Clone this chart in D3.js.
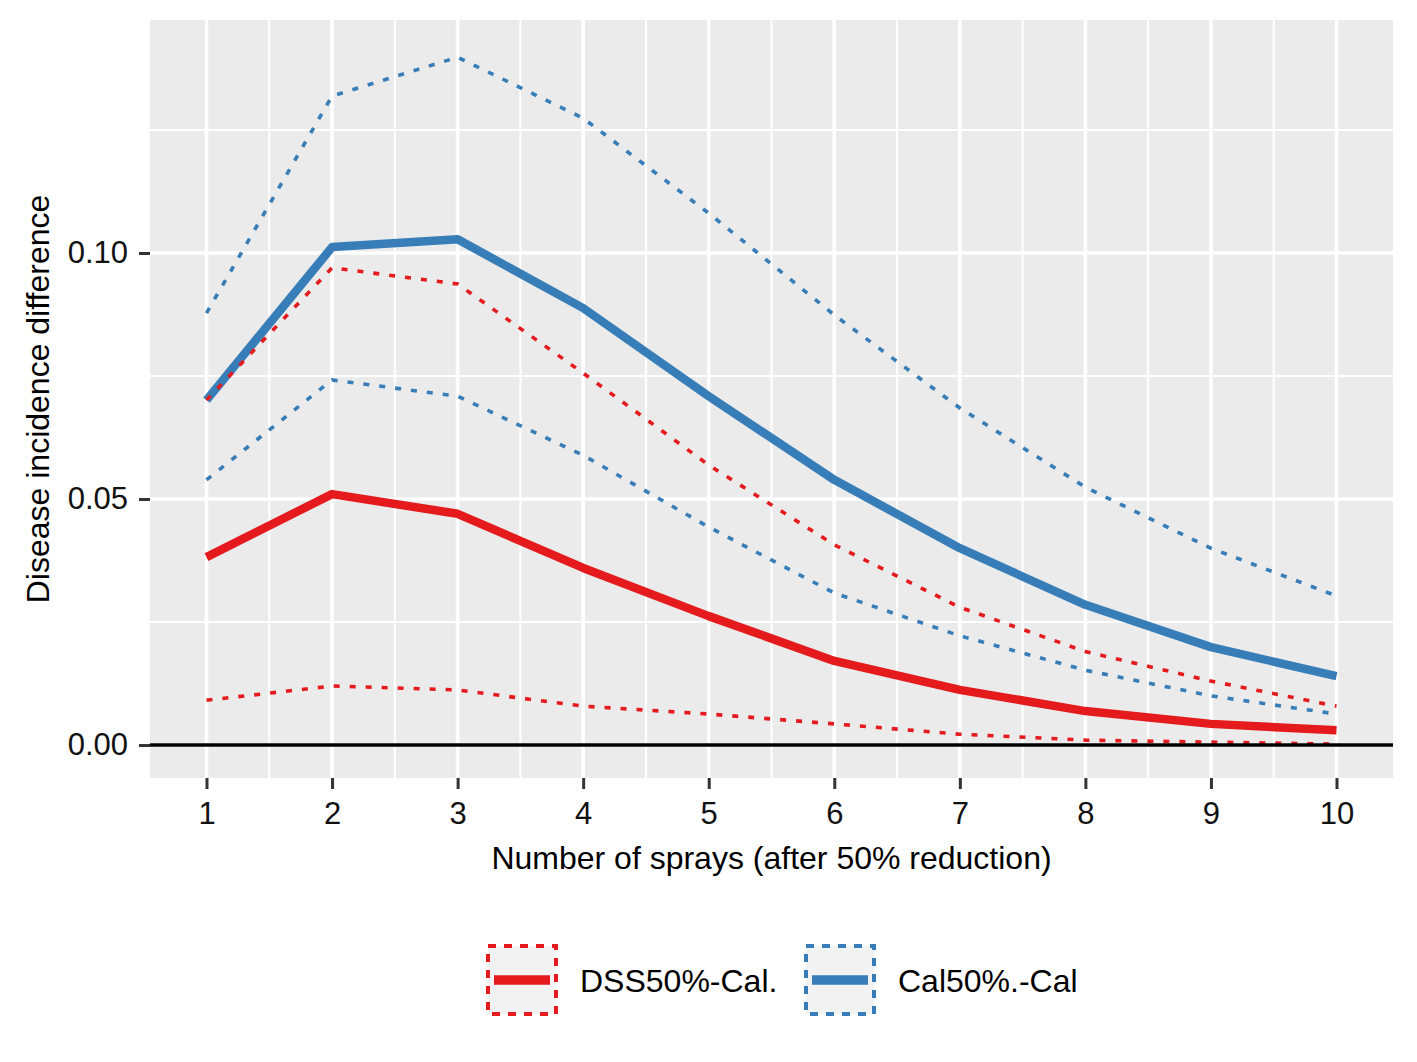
<!DOCTYPE html>
<html>
<head>
<meta charset="utf-8">
<script src="https://cdn.jsdelivr.net/npm/d3@7"></script>
<style>
  body { margin: 0; background: #fff; }
  svg { display: block; font-family: "Liberation Sans", Arial, sans-serif; }
</style>
</head>
<body>
<svg id="chart" width="1417" height="1062"></svg>
<script>
const sprays = [1, 2, 3, 4, 5, 6, 7, 8, 9, 10];
const dssMean  = [0.0382, 0.0510, 0.0470, 0.0360, 0.0262, 0.0171, 0.0112, 0.0069, 0.0043, 0.0030];
const dssUpper = [0.0701, 0.0970, 0.0937, 0.0756, 0.0569, 0.0407, 0.0280, 0.0190, 0.0130, 0.0079];
const dssLower = [0.0091, 0.0120, 0.0112, 0.0079, 0.0063, 0.0043, 0.0022, 0.0010, 0.0006, 0.0002];
const calMean  = [0.0701, 0.1012, 0.1028, 0.0888, 0.0709, 0.0539, 0.0400, 0.0285, 0.0199, 0.0140];
const calUpper = [0.0878, 0.1319, 0.1398, 0.1274, 0.1081, 0.0874, 0.0685, 0.0524, 0.0400, 0.0303];
const calLower = [0.0539, 0.0742, 0.0709, 0.0589, 0.0443, 0.0309, 0.0222, 0.0152, 0.0100, 0.0063];
const yTicks = [0.00, 0.05, 0.10];
const yMinor = [0.025, 0.075, 0.125];
const xMinor = [1.5, 2.5, 3.5, 4.5, 5.5, 6.5, 7.5, 8.5, 9.5];
const seriesNames = ["DSS50%-Cal.", "Cal50%.-Cal"];
const seriesColors = ["#E41A1C", "#377EB8"];

const svg = d3.select("#chart");
const panel = { left: 150, right: 1393, top: 20, bottom: 778 };

const x = d3.scaleLinear().domain([0.55, 10.45]).range([panel.left, panel.right]);
const y = d3.scaleLinear().domain([-0.0067, 0.14736]).range([panel.bottom, panel.top]);

// panel background
svg.append("rect")
  .attr("x", panel.left).attr("y", panel.top)
  .attr("width", panel.right - panel.left).attr("height", panel.bottom - panel.top)
  .attr("fill", "#EBEBEB");

const grid = svg.append("g");
// minor grid
grid.selectAll(".ymin").data(yMinor).join("line")
  .attr("x1", panel.left).attr("x2", panel.right)
  .attr("y1", d => y(d)).attr("y2", d => y(d))
  .attr("stroke", "#fff").attr("stroke-width", 2);
grid.selectAll(".xmin").data(xMinor).join("line")
  .attr("y1", panel.top).attr("y2", panel.bottom)
  .attr("x1", d => x(d)).attr("x2", d => x(d))
  .attr("stroke", "#fff").attr("stroke-width", 2);
// major grid
grid.selectAll(".ymaj").data(yTicks).join("line")
  .attr("x1", panel.left).attr("x2", panel.right)
  .attr("y1", d => y(d)).attr("y2", d => y(d))
  .attr("stroke", "#fff").attr("stroke-width", 3.6);
grid.selectAll(".xmaj").data(sprays).join("line")
  .attr("y1", panel.top).attr("y2", panel.bottom)
  .attr("x1", d => x(d)).attr("x2", d => x(d))
  .attr("stroke", "#fff").attr("stroke-width", 3.6);

const line = d3.line().x((d, i) => x(sprays[i])).y(d => y(d));

const solid = [
  { v: calMean, c: seriesColors[1] },
  { v: dssMean, c: seriesColors[0] }
];
const dotted = [
  { v: calUpper, c: seriesColors[1] },
  { v: calLower, c: seriesColors[1] },
  { v: dssUpper, c: seriesColors[0] },
  { v: dssLower, c: seriesColors[0] }
];

svg.append("g").selectAll("path").data(solid).join("path")
  .attr("d", d => line(d.v))
  .attr("fill", "none").attr("stroke", d => d.c)
  .attr("stroke-width", 8.5).attr("stroke-linejoin", "round");

svg.append("g").selectAll("path").data(dotted).join("path")
  .attr("d", d => line(d.v))
  .attr("fill", "none").attr("stroke", d => d.c)
  .attr("stroke-width", 3.6).attr("stroke-dasharray", "6,10");

// zero line
svg.append("line")
  .attr("x1", panel.left).attr("x2", panel.right)
  .attr("y1", y(0)).attr("y2", y(0))
  .attr("stroke", "#000").attr("stroke-width", 3.6);

// axes
const xAxis = svg.append("g")
  .attr("transform", `translate(0,${panel.bottom})`)
  .call(d3.axisBottom(x).tickValues(sprays).tickFormat(d3.format("d")).tickSize(11).tickPadding(13));
const yAxis = svg.append("g")
  .attr("transform", `translate(${panel.left},0)`)
  .call(d3.axisLeft(y).tickValues(yTicks).tickFormat(d3.format(".2f")).tickSize(11).tickPadding(11));
[xAxis, yAxis].forEach(a => {
  a.select(".domain").remove();
  a.selectAll(".tick line").attr("stroke", "#333").attr("stroke-width", 3);
  a.selectAll(".tick text").attr("fill", "#111").attr("font-size", 31)
    .attr("font-family", "Liberation Sans, Arial, sans-serif");
});

// axis titles
svg.append("text")
  .attr("x", (panel.left + panel.right) / 2).attr("y", 869)
  .attr("text-anchor", "middle").attr("font-size", 32).attr("fill", "#000")
  .text("Number of sprays (after 50% reduction)");
svg.append("text")
  .attr("transform", `translate(49,${(panel.top + panel.bottom) / 2}) rotate(-90)`)
  .attr("text-anchor", "middle").attr("font-size", 32).attr("fill", "#000")
  .text("Disease incidence difference");

// legend
const legendX = [488, 806];
const lg = svg.append("g");
seriesNames.forEach((name, i) => {
  const g = lg.append("g").attr("transform", `translate(${legendX[i]},946)`);
  g.append("rect").attr("x", 0).attr("y", 0).attr("width", 68).attr("height", 68)
    .attr("fill", "#F2F2F2").attr("stroke", seriesColors[i]).attr("stroke-width", 4)
    .attr("stroke-dasharray", "8,8");
  g.append("line").attr("x1", 6).attr("x2", 62).attr("y1", 34).attr("y2", 34)
    .attr("stroke", seriesColors[i]).attr("stroke-width", 9.5);
  g.append("text").attr("x", 92).attr("y", 34 + 11.5)
    .attr("font-size", 32).attr("fill", "#000").text(name);
});
</script>
</body>
</html>
